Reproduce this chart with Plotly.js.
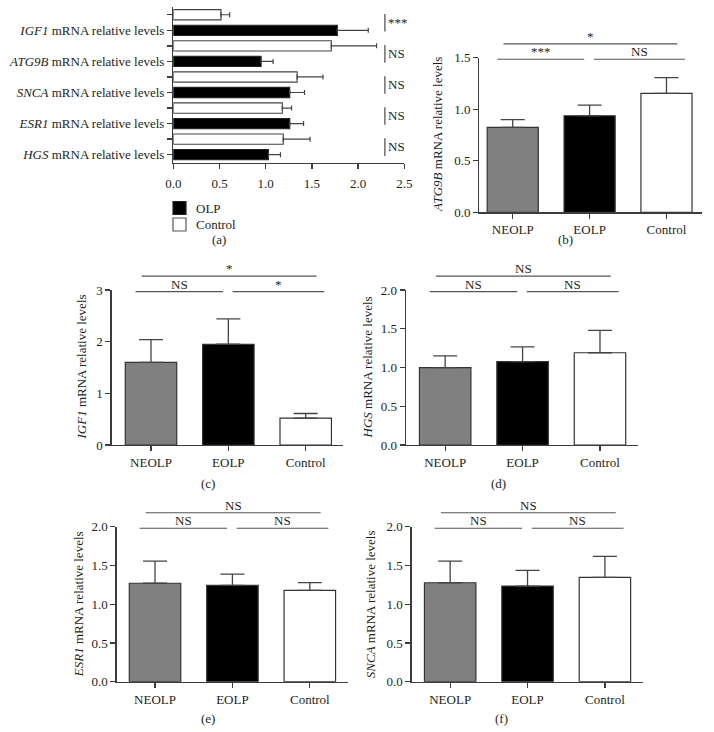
<!DOCTYPE html>
<html><head><meta charset="utf-8">
<script src="https://cdn.plot.ly/plotly-3.0.1.min.js"></script>
<style>html,body{margin:0;padding:0;background:#fff}#chart{width:714px;height:732px}</style>
</head><body><div id="chart"></div>
<script>
// ---------- data ----------
const genes = ["IGF1", "ATG9B", "SNCA", "ESR1", "HGS"];
const olpMean = [1.775, 0.95, 1.26, 1.26, 1.03];
const olpErr = [0.335, 0.13, 0.16, 0.15, 0.13];
const ctrlMean = [0.516, 1.71, 1.34, 1.18, 1.19];
const ctrlErr = [0.094, 0.49, 0.28, 0.10, 0.29];
const sigA = ["***", "NS", "NS", "NS", "NS"];
const legendNames = ["OLP", "Control"];

const groups = ["NEOLP", "EOLP", "Control"];
const atg9bMean = [0.824, 0.937, 1.154];
const atg9bErr = [0.076, 0.103, 0.152];
const igf1Mean = [1.60, 1.95, 0.52];
const igf1Err = [0.44, 0.49, 0.09];
const hgsMean = [0.998, 1.075, 1.19];
const hgsErr = [0.152, 0.19, 0.29];
const esr1Mean = [1.27, 1.243, 1.179];
const esr1Err = [0.285, 0.145, 0.099];
const sncaMean = [1.277, 1.234, 1.346];
const sncaErr = [0.278, 0.202, 0.27];
// significance labels for pairs: [NEOLP-EOLP, EOLP-Control, NEOLP-Control]
const sigB = ["***", "NS", "*"];
const sigC = ["NS", "*", "*"];
const sigD = ["NS", "NS", "NS"];
const sigE = ["NS", "NS", "NS"];
const sigF = ["NS", "NS", "NS"];

// ---------- styling helpers ----------
const W = 714, H = 732;
const fx = p => p / W, fy = p => 1 - p / H;
const FONT = "Liberation Serif, serif";
const TXT = "#231f20";
const AX = "#3c3c3c";
const groupColors = ["#808080", "#000000", "#ffffff"];
const olpColor = "#000000", ctrlColor = "#ffffff";

const traces = [];
const shapes = [];
const annotations = [];
const layout = {
  width: W, height: H,
  margin: {l: 0, r: 0, t: 0, b: 0},
  paper_bgcolor: "#fff", plot_bgcolor: "rgba(0,0,0,0)",
  font: {family: FONT, size: 13, color: TXT},
  barmode: "overlay",
  showlegend: false,
  shapes: shapes,
  annotations: annotations
};
const txtFont = (s) => ({family: FONT, size: s || 13, color: TXT});

function baseAxis() {
  return {
    showline: true, linecolor: AX, linewidth: 1.3,
    ticks: "outside", ticklen: 5, tickcolor: AX, tickwidth: 1.3,
    showgrid: false, zeroline: false, fixedrange: true,
    tickfont: txtFont(13)
  };
}

// ---------- panel (a) ----------
const catsA = [], tickTextA = [];
for (let i = genes.length - 1; i >= 0; i--) {
  catsA.push(genes[i] + " OLP");
  tickTextA.push("<i>" + genes[i] + "</i> mRNA relative levels");
  catsA.push(genes[i] + " Control");
  tickTextA.push("");
}
traces.push({
  type: "bar", orientation: "h", name: legendNames[0],
  y: genes.map(g => g + " OLP"), x: olpMean,
  xaxis: "x", yaxis: "y", width: 0.66,
  marker: {color: olpColor, line: {color: "#222", width: 1.1}},
  error_x: {type: "data", symmetric: false, array: olpErr, arrayminus: olpErr.map(() => 0),
            color: "#444", thickness: 1.2, width: 2.5},
  hoverinfo: "skip"
});
traces.push({
  type: "bar", orientation: "h", name: legendNames[1],
  y: genes.map(g => g + " Control"), x: ctrlMean,
  xaxis: "x", yaxis: "y", width: 0.66,
  marker: {color: ctrlColor, line: {color: "#444", width: 1.1}},
  error_x: {type: "data", symmetric: false, array: ctrlErr, arrayminus: ctrlErr.map(() => 0),
            color: "#444", thickness: 1.2, width: 2.5},
  hoverinfo: "skip"
});
layout.xaxis = Object.assign(baseAxis(), {
  domain: [fx(173.3), fx(404.3)], anchor: "y",
  range: [0, 2.5], dtick: 0.5, tick0: 0, tickformat: ".1f", ticklabelstandoff: 3
});
layout.yaxis = Object.assign(baseAxis(), {
  domain: [fy(163), fy(7)], anchor: "x", type: "category",
  categoryorder: "array", categoryarray: catsA,
  tickmode: "array", tickvals: catsA, ticktext: tickTextA,
  range: [-0.535, catsA.length - 0.5]
});
genes.forEach((g, k) => {
  const i = genes.length - 1 - k;      // bottom-up index
  const yOLP = 2 * i, yCtrl = 2 * i + 1;
  shapes.push({type: "line", xref: "x", yref: "y", x0: 2.29, x1: 2.29,
               y0: yOLP - 0.08, y1: yCtrl + 0.05, line: {color: "#555", width: 1.3}});
  annotations.push({xref: "x", yref: "y", x: 2.29, y: (yOLP + yCtrl) / 2,
                    xanchor: "left", yanchor: "middle", xshift: 1, showarrow: false,
                    text: sigA[k], font: txtFont(13)});
});
// legend for panel (a)
const legendItems = [
  {name: legendNames[0], fill: olpColor, edge: "#222", top: 201.5},
  {name: legendNames[1], fill: ctrlColor, edge: "#555", top: 218}
];
legendItems.forEach(it => {
  shapes.push({type: "rect", xref: "paper", yref: "paper",
               x0: fx(173), x1: fx(186), y0: fy(it.top + 13), y1: fy(it.top),
               fillcolor: it.fill, line: {color: it.edge, width: 1.2}});
  annotations.push({xref: "paper", yref: "paper", x: fx(194), y: fy(it.top + 6.5),
                    xanchor: "left", yanchor: "middle", showarrow: false,
                    text: it.name, font: txtFont(13)});
});
annotations.push({xref: "paper", yref: "paper", x: fx(219), y: fy(240), showarrow: false,
                  xanchor: "center", yanchor: "middle", text: "(a)", font: txtFont(13)});

// ---------- panels (b)-(f) ----------
const panels = [
  {id: 2, gene: "ATG9B", mean: atg9bMean, err: atg9bErr, sig: sigB, label: "(b)",
   xd: [479.3, 702], yd: [57.7, 212.3], xr: [-0.435, 2.462], yr: [0, 1.5], dtick: 0.5, fmt: ".1f",
   titleX: 437, labelPos: [565, 240]},
  {id: 3, gene: "IGF1", mean: igf1Mean, err: igf1Err, sig: sigC, label: "(c)",
   xd: [111.7, 343.3], yd: [290, 445], xr: [-0.508, 2.486], yr: [0, 3], dtick: 1, fmt: "d",
   titleX: 81, labelPos: [208, 483]},
  {id: 4, gene: "HGS", mean: hgsMean, err: hgsErr, sig: sigD, label: "(d)",
   xd: [406, 638.3], yd: [290, 445], xr: [-0.506, 2.495], yr: [0, 2], dtick: 0.5, fmt: ".1f",
   titleX: 367, labelPos: [498, 483]},
  {id: 5, gene: "ESR1", mean: esr1Mean, err: esr1Err, sig: sigE, label: "(e)",
   xd: [116.7, 348.3], yd: [526.7, 681.7], xr: [-0.495, 2.497], yr: [0, 2], dtick: 0.5, fmt: ".1f",
   titleX: 78, labelPos: [208, 718.5]},
  {id: 6, gene: "SNCA", mean: sncaMean, err: sncaErr, sig: sigF, label: "(f)",
   xd: [411.7, 643.3], yd: [526.7, 681.7], xr: [-0.497, 2.496], yr: [0, 2], dtick: 0.5, fmt: ".1f",
   titleX: 370, labelPos: [502, 718.5]}
];

panels.forEach(p => {
  const xa = "x" + p.id, ya = "y" + p.id;
  traces.push({
    type: "bar", x: groups, y: p.mean, xaxis: xa, yaxis: ya, width: 0.665,
    showlegend: false, hoverinfo: "skip",
    marker: {color: groupColors, line: {color: "#333", width: 1.2}},
    error_y: {type: "data", symmetric: false, array: p.err, arrayminus: p.err.map(() => 0),
              color: "#444", thickness: 1.3, width: 12}
  });
  layout["xaxis" + p.id] = Object.assign(baseAxis(), {
    domain: [fx(p.xd[0]), fx(p.xd[1])], anchor: ya, type: "category",
    categoryorder: "array", categoryarray: groups, range: p.xr
  });
  layout["yaxis" + p.id] = Object.assign(baseAxis(), {
    domain: [fy(p.yd[1]), fy(p.yd[0])], anchor: xa,
    range: p.yr, dtick: p.dtick, tick0: 0, tickformat: p.fmt
  });
  // y title
  annotations.push({xref: "paper", yref: "paper", x: fx(p.titleX), y: fy((p.yd[0] + p.yd[1]) / 2),
                    textangle: -90, showarrow: false, xanchor: "center", yanchor: "middle",
                    text: "<i>" + p.gene + "</i> mRNA relative levels", font: txtFont(13)});
  // panel label
  annotations.push({xref: "paper", yref: "paper", x: fx(p.labelPos[0]), y: fy(p.labelPos[1]),
                    showarrow: false, xanchor: "center", yanchor: "middle", text: p.label,
                    font: txtFont(13)});
  // significance brackets
  const dom = c => (c - p.xr[0]) / (p.xr[1] - p.xr[0]);
  const brackets = [
    {a: 0 - 0.2, b: 1 - 0.07, y: 0.99, t: p.sig[0]},
    {a: 1 + 0.055, b: 2 + 0.24, y: 0.99, t: p.sig[1]},
    {a: 0 - 0.12, b: 2 + 0.14, y: 1.09, t: p.sig[2]}
  ];
  brackets.forEach(br => {
    shapes.push({type: "line", xref: xa + " domain", yref: ya + " domain",
                 x0: dom(br.a), x1: dom(br.b), y0: br.y, y1: br.y,
                 line: {color: "#555", width: 1.2}});
    annotations.push({xref: xa + " domain", yref: ya + " domain",
                      x: (dom(br.a) + dom(br.b)) / 2, y: br.y, yanchor: "bottom", yshift: -2,
                      xanchor: "center", showarrow: false, text: br.t, font: txtFont(13)});
  });
});

Plotly.newPlot("chart", traces, layout, {staticPlot: true, displayModeBar: false});
</script></body></html>
